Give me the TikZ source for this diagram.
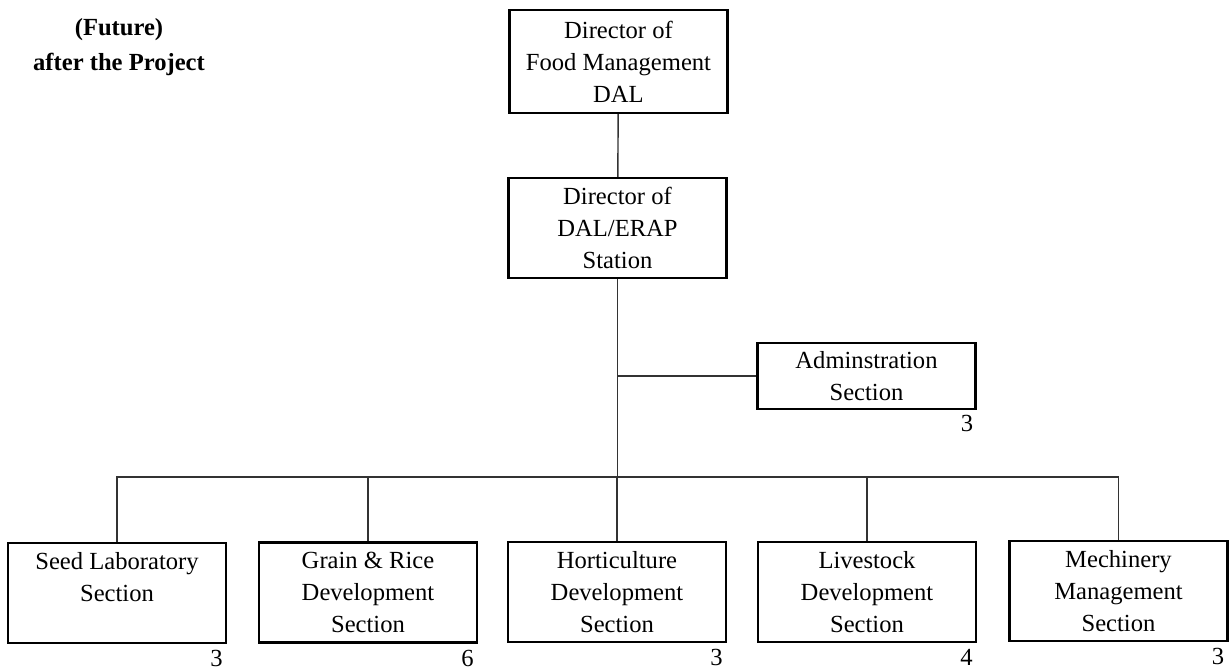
\documentclass[tikz,border=0pt]{standalone}
\usepackage{fontspec}
\setmainfont{Liberation Serif}
\usetikzlibrary{positioning}
\tikzset{
  unit/.style={draw, line width=1.3pt, align=center, inner sep=0pt,
    minimum width=4.36cm, minimum height=2cm,
    font=\fontsize{14}{18.2}\selectfont},
  staff/.style={inner sep=0pt, font=\fontsize{14}{16}\selectfont},
  link/.style={line width=0.8pt, black!80},
}

\begin{document}
\begin{tikzpicture}[x=0.02cm, y=-0.02cm]
			%%%%% frame %%%%%
			\useasboundingbox (0, 0) rectangle (1232, 672);
			
			\node[align=center, font=\bfseries\fontsize{14}{19.9}\selectfont] (title) at (119, 47) {(Future)\\after the Project};
			
			%%%%% head %%%%%
			\node[unit, minimum height=2.06cm] (dir) at (618.5, 61.5) {Director of\\Food Management\\DAL};
			\node[unit] (stn) at (617.5, 228) {Director of\\DAL/ERAP\\Station};
			\node[unit, minimum height=1.32cm] (adm) at (866.5, 376) {Adminstration\\Section};
			\node[staff, below left=0.1cm and 0.06cm of adm.south east] (admn) {3};
			
			%%%%% sections %%%%%
			\node[unit] (seed)  at (117, 593)    {Seed Laboratory\\Section\\~};
			\node[unit] (grain) at (368, 592.5)  {Grain \& Rice\\Development\\Section};
			\node[unit] (hort)  at (617, 592)    {Horticulture\\Development\\Section};
			\node[unit] (live)  at (867, 592)    {Livestock\\Development\\Section};
			\node[unit] (mech)  at (1118.5, 591) {Mechinery\\Management\\Section};
			
			\node[staff, below left=0.12cm and 0.08cm of seed.south east]  (seedn)  {3};
			\node[staff, below left=0.12cm and 0.08cm of grain.south east] (grainn) {6};
			\node[staff, below left=0.12cm and 0.08cm of hort.south east]  (hortn)  {3};
			\node[staff, below left=0.12cm and 0.08cm of live.south east]  (liven)  {4};
			\node[staff, below left=0.12cm and 0.08cm of mech.south east]  (mechn)  {3};
			
			%%%%% lines %%%%%
			\coordinate (bus) at (0, 477);
			\draw[link] (dir) -- (stn);
			\draw[link] (stn) -- (stn |- bus);
			\draw[link] (adm.west) -- (adm.west -| stn.south);
			\draw[link] (seed.north) |- (bus -| mech.north) -- (mech.north);
			\foreach \sec in {grain, hort, live}
				\draw[link] (\sec.north) -- (\sec.north |- bus);
			
			%%%%% END %%%%%
\end{tikzpicture}
\end{document}
